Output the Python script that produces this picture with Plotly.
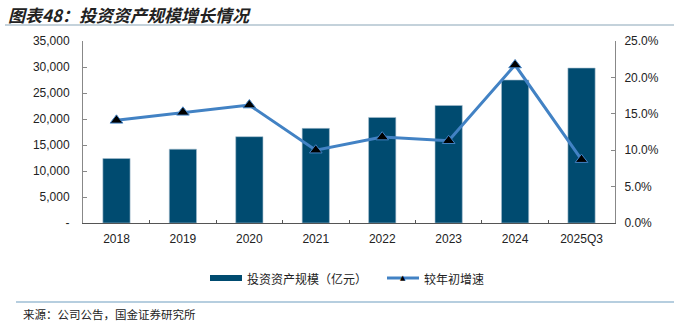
import plotly.graph_objects as go

categories = ["2018", "2019", "2020", "2021", "2022", "2023", "2024", "2025Q3"]
asset_scale = [12400, 14200, 16600, 18200, 20300, 22600, 27500, 29800]
growth_rate = [0.141, 0.152, 0.162, 0.100, 0.118, 0.113, 0.217, 0.087]
left_tickvals = [0, 5000, 10000, 15000, 20000, 25000, 30000, 35000]
left_ticktext = ["-", "5,000", "10,000", "15,000", "20,000", "25,000", "30,000", "35,000"]
right_tickvals = [0, 0.05, 0.10, 0.15, 0.20, 0.25]
right_ticktext = ["0.0%", "5.0%", "10.0%", "15.0%", "20.0%", "25.0%"]
bar_name = "投资资产规模（亿元）"
line_name = "较年初增速"
title_text = "图表48：投资资产规模增长情况"
source_text = "来源：公司公告，国金证券研究所"

W, H = 674, 322
L, R, T, B = 83, 615, 41, 223
BAR_COLOR = "#004b70"
LINE_COLOR = "#4282c4"
FONT = "Liberation Sans, Arial, sans-serif"
CJK = "Noto Sans CJK SC"


def px(x):
    return (x - L) / (R - L)


def py(y):
    return (B - y) / (B - T)


fig = go.Figure()
fig.add_trace(go.Bar(
    x=categories, y=asset_scale, name=bar_name,
    marker=dict(color=BAR_COLOR, line=dict(color="#a8c0d0", width=0.6)),
    width=0.41, yaxis="y",
))
fig.add_trace(go.Scatter(
    x=categories, y=growth_rate, name=line_name, mode="lines+markers",
    line=dict(color=LINE_COLOR, width=3),
    marker=dict(symbol="triangle-up", size=11, color="black",
                line=dict(color=LINE_COLOR, width=1)),
    yaxis="y2",
))

fig.update_layout(
    width=W, height=H,
    margin=dict(l=L, r=W - R, t=T, b=H - B, pad=0),
    paper_bgcolor="white", plot_bgcolor="white",
    showlegend=False,
    bargap=0.59,
    font=dict(family=FONT, size=12, color="#222"),
    xaxis=dict(
        type="category", showline=True, linecolor="#555", linewidth=1,
        ticks="inside", ticklen=3, tickcolor="#555", tickson="boundaries",
        showgrid=False, tickfont=dict(family=FONT, size=12, color="#222"),
        ticklabelstandoff=5,
    ),
    yaxis=dict(
        range=[0, 35000], tickvals=left_tickvals, ticktext=left_ticktext,
        showline=True, linecolor="#888", linewidth=1, ticks="inside", ticklen=4,
        tickcolor="#888", showgrid=False, zeroline=False,
        tickfont=dict(family=FONT, size=12, color="#222"),
        ticklabelstandoff=10,
    ),
    yaxis2=dict(
        range=[0, 0.25], tickvals=right_tickvals, ticktext=right_ticktext,
        overlaying="y", side="right",
        showline=True, linecolor="#888", linewidth=1, ticks="inside", ticklen=4,
        tickcolor="#888", showgrid=False, zeroline=False,
        tickfont=dict(family=FONT, size=12, color="#222"),
        ticklabelstandoff=6,
    ),
)

shapes = [
    dict(type="line", xref="paper", yref="paper", x0=px(5), x1=px(674),
         y0=py(25), y1=py(25), line=dict(color="#8aa5b8", width=1.2)),
    dict(type="line", xref="paper", yref="paper", x0=px(16), x1=px(674),
         y0=py(302), y1=py(302), line=dict(color="#6f9ec0", width=1.2)),
    # legend swatches
    dict(type="rect", xref="paper", yref="paper", x0=px(210), x1=px(242),
         y0=py(281), y1=py(275), fillcolor=BAR_COLOR, line=dict(width=0)),
    dict(type="line", xref="paper", yref="paper", x0=px(387), x1=px(419),
         y0=py(278), y1=py(278), line=dict(color=LINE_COLOR, width=3)),
]
fig.update_layout(shapes=shapes)

annotations = [
    dict(text="<b><i>" + title_text + "</i></b>", xref="paper", yref="paper",
         x=px(6), y=py(14), xanchor="left", yanchor="middle", showarrow=False,
         font=dict(family=CJK, size=17, color="#222")),
    dict(text=source_text, xref="paper", yref="paper",
         x=px(21), y=py(314), xanchor="left", yanchor="middle", showarrow=False,
         font=dict(family=CJK, size=11.5, color="#222")),
    dict(text=bar_name, xref="paper", yref="paper",
         x=px(245), y=py(278), xanchor="left", yanchor="middle", showarrow=False,
         font=dict(family=CJK, size=12, color="#222")),
    dict(text=line_name, xref="paper", yref="paper",
         x=px(422), y=py(278), xanchor="left", yanchor="middle", showarrow=False,
         font=dict(family=CJK, size=12, color="#222")),
    dict(text="▲", xref="paper", yref="paper",
         x=px(403), y=py(277.5), xanchor="center", yanchor="middle", showarrow=False,
         font=dict(family="DejaVu Sans", size=7, color="black")),
]
fig.update_layout(annotations=annotations)

fig.write_html("out.html")
